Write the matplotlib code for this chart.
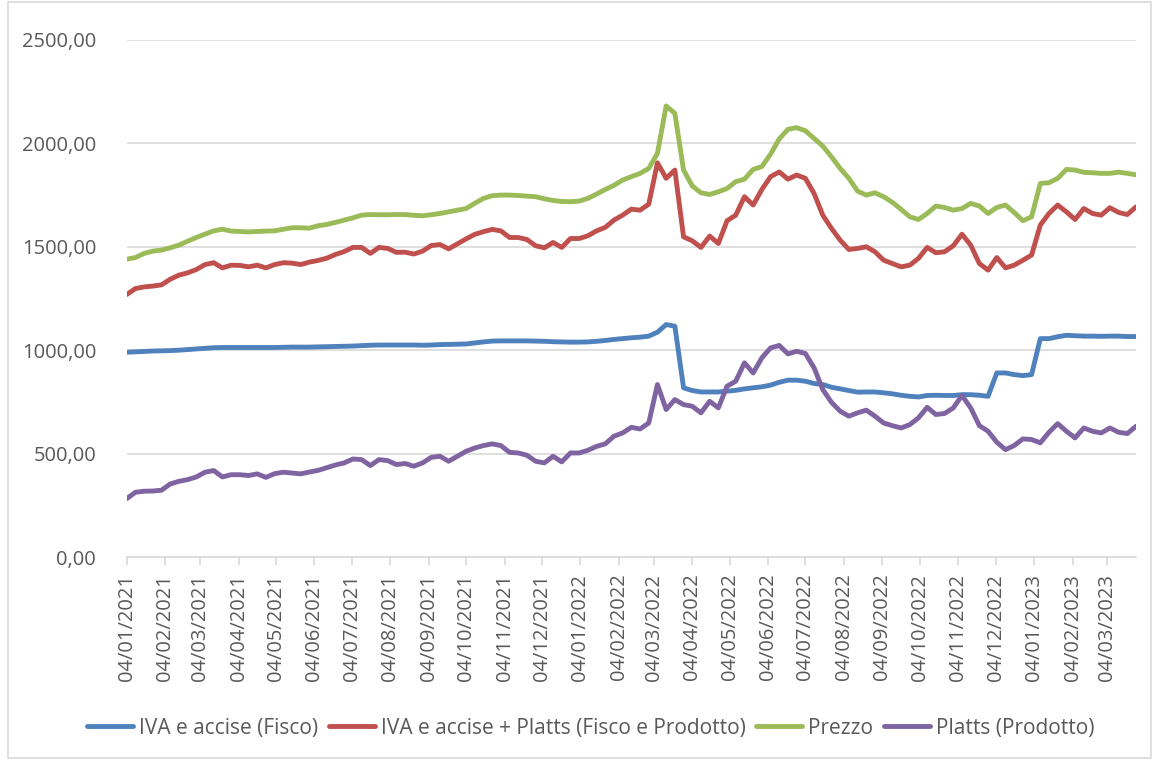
import pandas as pd
import matplotlib
matplotlib.use("Agg")
import matplotlib.pyplot as plt
from matplotlib.ticker import FuncFormatter, MultipleLocator
from matplotlib.patches import Rectangle

# weekly series, starting Monday 04/01/2021
start_date = "2021-01-04"
n_weeks = 117

fisco = [990, 992, 994, 996, 997, 998, 1000, 1003, 1006, 1009, 1012, 1013, 1013, 1013, 1013, 1013,
         1013, 1013, 1014, 1015, 1015, 1015, 1016, 1017, 1018, 1019, 1020, 1022, 1024, 1025, 1025,
         1025, 1025, 1025, 1024, 1025, 1027, 1028, 1029, 1030,
         1035, 1040, 1044, 1045, 1045, 1045, 1045, 1044, 1043, 1041, 1040, 1039, 1039, 1040, 1043,
         1047, 1052, 1056, 1060, 1063, 1068, 1087, 1124, 1116,
         818, 805, 798, 798, 798, 802, 806, 813, 818, 823, 831, 845, 855,
         855, 850, 839, 834, 821, 813, 805, 797, 798, 798, 794, 789, 782, 777, 774, 781, 782, 781,
         781, 785, 785, 782, 777, 890, 890, 882, 877, 882, 1056, 1056, 1065, 1072, 1070, 1068, 1068,
         1067, 1068, 1068, 1066, 1066]

fisco_prodotto = [1269, 1298, 1306, 1310, 1316, 1343, 1363, 1374, 1390, 1414, 1423, 1398, 1411, 1410,
                  1403, 1411, 1398, 1414, 1423, 1421, 1414, 1426, 1434, 1445, 1463, 1477, 1497, 1497,
                  1468, 1497, 1492, 1473, 1474, 1465, 1479, 1506, 1511, 1490, 1514, 1538,
                  1560, 1573, 1584, 1577, 1545, 1545, 1535, 1505, 1495, 1521, 1497, 1540, 1540, 1553,
                  1577, 1594, 1629, 1653, 1682, 1677, 1706, 1906, 1831, 1871, 1548, 1529, 1497, 1552,
                  1516, 1626, 1653, 1742, 1702, 1777, 1839, 1862, 1827,
                  1847, 1831, 1758, 1653, 1589, 1532, 1487, 1492, 1500, 1476, 1435, 1419, 1403, 1411,
                  1444, 1497, 1471, 1476, 1505, 1561, 1508, 1419, 1387, 1448, 1398, 1411, 1435, 1460,
                  1605, 1661, 1702, 1669, 1632, 1685, 1661, 1653, 1689, 1666, 1656, 1693]

prezzo = [1440, 1448, 1468, 1479, 1484, 1495, 1508, 1527, 1545, 1561, 1577, 1585, 1576, 1574, 1572,
          1574, 1576, 1577, 1585, 1592, 1592, 1590, 1602, 1608, 1618, 1629, 1640, 1653, 1656, 1655,
          1655, 1656, 1656, 1652, 1650, 1655, 1661, 1669, 1677, 1685,
          1710, 1734, 1747, 1750, 1750, 1748, 1745, 1742, 1732, 1724, 1719, 1718, 1721, 1734, 1755,
          1777, 1797, 1823, 1839, 1855, 1879, 1952, 2181, 2145, 1871, 1794, 1761, 1753, 1766, 1782,
          1815, 1827, 1874, 1888, 1948, 2022, 2068,
          2076, 2061, 2024, 1987, 1935, 1879, 1831, 1769, 1750, 1761, 1742, 1715, 1681, 1645, 1632,
          1661, 1697, 1690, 1677, 1685, 1710, 1697, 1661, 1690, 1702, 1666, 1626, 1645, 1806, 1810,
          1831, 1874, 1871, 1860, 1858, 1855, 1855, 1861, 1855, 1848]

prodotto = [282, 313, 318, 319, 323, 353, 366, 374, 387, 410, 418, 387, 398, 398, 394, 402, 385, 403,
            410, 406, 402, 411, 419, 432, 445, 455, 474, 471, 442, 471, 466, 447, 452, 439, 455, 482,
            487, 463, 487, 511,
            527, 539, 547, 539, 506, 503, 492, 463, 455, 487, 460, 503, 503, 516, 535, 547, 584, 600,
            627, 619, 648, 834, 713, 761, 737, 729, 697, 753, 721, 826, 850, 939, 890, 963, 1011,
            1023, 982,
            995, 984, 915, 810, 748, 705, 681, 697, 710, 681, 648, 635, 624, 640, 673, 724, 689, 694,
            721, 781, 721, 635, 608, 555, 519, 539, 571, 568, 552, 603, 645, 608, 576, 624, 608, 600,
            624, 603, 597, 632]

labels = ["IVA e accise (Fisco)", "IVA e accise + Platts (Fisco e Prodotto)", "Prezzo",
          "Platts (Prodotto)"]
colors = ["#4F81BD", "#C0504D", "#9BBB59", "#8064A2"]

plt.rcParams["font.family"] = ["Open Sans", "DejaVu Sans"]
txt_color = "#595959"
grid_color = "#D9D9D9"

dates = pd.date_range(start_date, periods=n_weeks, freq="7D")
df = pd.DataFrame({labels[0]: fisco, labels[1]: fisco_prodotto,
                   labels[2]: prezzo, labels[3]: prodotto}, index=dates)

fig = plt.figure(figsize=(11.54, 7.60), dpi=100)
ax = fig.add_axes([0.1098, 0.2671, 0.8746, 0.6803])

for lab, col in zip(labels, colors):
    ax.plot(df.index, df[lab], color=col, linewidth=3.5, label=lab,
            solid_joinstyle="round", solid_capstyle="round")

ax.set_ylim(0, 2500)
ax.yaxis.set_major_locator(MultipleLocator(500))
ax.yaxis.set_major_formatter(FuncFormatter(lambda v, p: f"{v:.2f}".replace(".", ",")))
ax.grid(axis="y", color=grid_color, linewidth=1.2)
ax.set_axisbelow(True)

month_ticks = pd.date_range("2021-01-04", "2023-03-04", freq=pd.DateOffset(months=1))
ax.set_xticks(month_ticks)
ax.set_xticklabels([d.strftime("%d/%m/%Y") for d in month_ticks], rotation=90)
ax.set_xlim(dates[0], dates[-1])

for s in ["top", "right", "left"]:
    ax.spines[s].set_visible(False)
ax.spines["bottom"].set_color(grid_color)
ax.spines["bottom"].set_linewidth(1.2)
ax.tick_params(axis="x", colors=txt_color, labelsize=14.5, length=6, width=1.2,
               color=grid_color, pad=6)
ax.tick_params(axis="y", colors=txt_color, labelsize=14.5, length=0, pad=22)

fig.legend(loc="center", bbox_to_anchor=(0.512, 0.042), ncol=4, frameon=False,
           fontsize=15, handlelength=2.2, handletextpad=0.3, columnspacing=0.5,
           labelcolor=txt_color)

fig.patches.append(Rectangle((0.007, 0.003), 0.99, 0.994, transform=fig.transFigure,
                             fill=False, edgecolor=grid_color, linewidth=1.2))

fig.savefig("out.png", dpi=100)
